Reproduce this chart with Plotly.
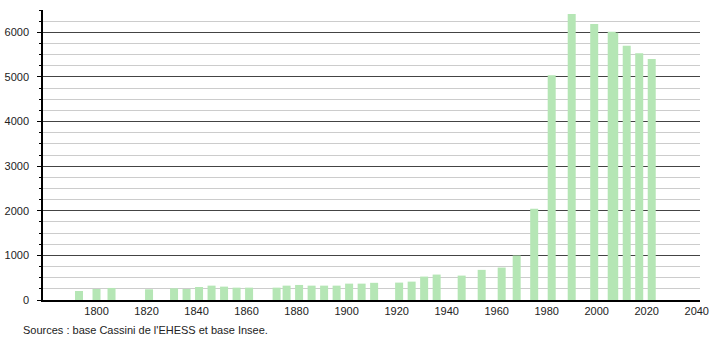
import plotly.graph_objects as go

years = [1793, 1800, 1806, 1821, 1831, 1836, 1841, 1846, 1851, 1856, 1861,
         1872, 1876, 1881, 1886, 1891, 1896, 1901, 1906, 1911,
         1921, 1926, 1931, 1936, 1946, 1954, 1962, 1968, 1975, 1982,
         1990, 1999, 2006, 2007, 2012, 2017, 2022]
population = [202, 247, 270, 240, 262, 247, 292, 322, 300, 277, 277,
              277, 322, 337, 322, 322, 322, 367, 367, 385,
              390, 412, 525, 570, 547, 675, 727, 997, 2045, 5038,
              6410, 6185, 6010, 5990, 5700, 5533, 5400]
x_ticks = [1800, 1820, 1840, 1860, 1880, 1900, 1920, 1940, 1960, 1980, 2000, 2020, 2040]
y_ticks = [0, 1000, 2000, 3000, 4000, 5000, 6000]
source_text = "Sources : base Cassini de l'EHESS et base Insee."

font = dict(family="Liberation Sans, Arial, sans-serif", size=11, color="#222")

L, R, T, B = 43, 10, 10, 40
W, H = 710, 340

fig = go.Figure()
fig.add_trace(go.Bar(
    x=years, y=population, width=3.2,
    marker=dict(color="#b5e6b5", line=dict(width=0)),
    hoverinfo="x+y",
))

fig.update_layout(
    width=W, height=H,
    margin=dict(l=L, r=R, t=T, b=B, autoexpand=False),
    paper_bgcolor="white", plot_bgcolor="white",
    showlegend=False,
    font=font,
    xaxis=dict(
        range=[1778.6, 2041.3], automargin=False,
        tickmode="array", tickvals=x_ticks, ticktext=[str(v) for v in x_ticks],
        showgrid=False, zeroline=False,
        showline=True, linecolor="black", linewidth=1.5,
        ticks="", tickfont=font,
    ),
    yaxis=dict(
        range=[0, 6500], automargin=False,
        tickmode="array", tickvals=y_ticks, ticktext=[str(v) for v in y_ticks],
        showgrid=True, gridcolor="#444", gridwidth=1,
        zeroline=False,
        showline=True, linecolor="black", linewidth=1.5,
        ticks="outside", ticklen=4, tickcolor="black", tickwidth=1,
        tickfont=font, ticklabelstandoff=6,
        minor=dict(dtick=250, showgrid=True, gridcolor="#cccccc", gridwidth=1,
                   ticks="outside", ticklen=2, tickcolor="black"),
    ),
    annotations=[dict(
        text=source_text,
        x=(21 - L) / (W - L - R), y=(H - B - 330) / (H - T - B),
        xref="paper", yref="paper",
        showarrow=False, xanchor="left", yanchor="middle", font=font,
    )],
)

fig.write_html("out.html")
